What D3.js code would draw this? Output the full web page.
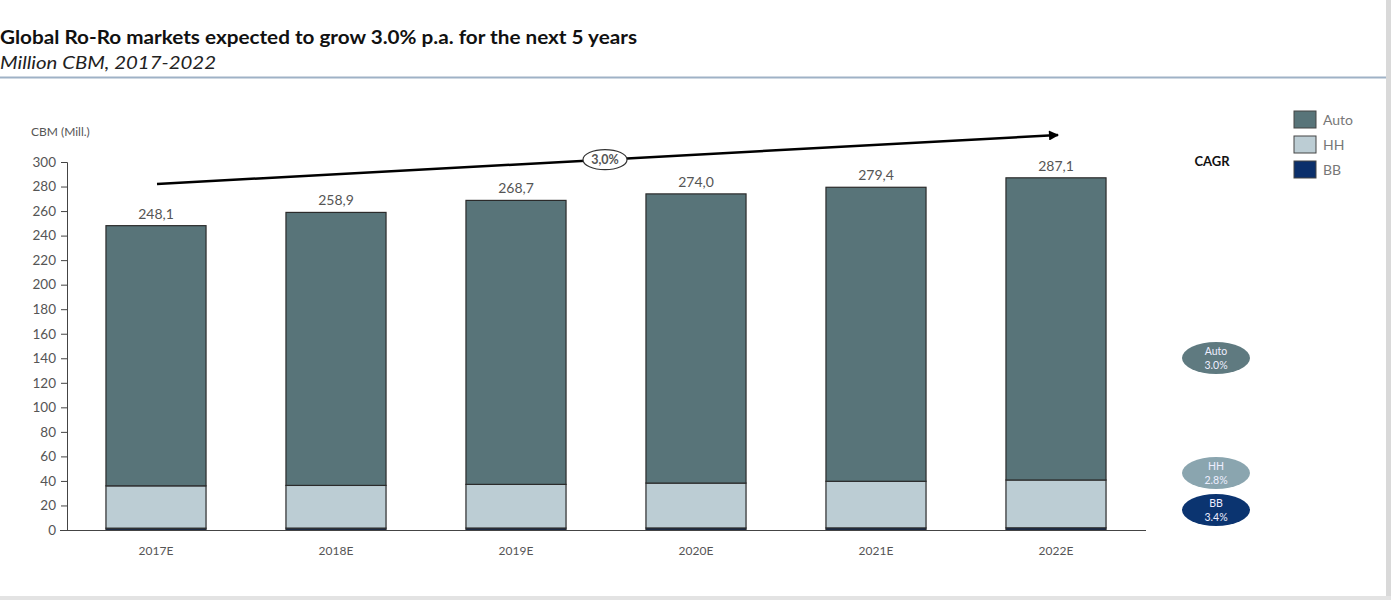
<!DOCTYPE html>
<html><head><meta charset="utf-8">
<script src="https://cdn.jsdelivr.net/npm/d3@7/dist/d3.min.js"></script>
<style>body{margin:0;background:#fff;} svg{display:block;}</style>
</head><body>
<svg id="c" width="1391" height="600"></svg>
<script>
const categories = ["2017E","2018E","2019E","2020E","2021E","2022E"];
const totals = [248.1, 258.9, 268.7, 274.0, 279.4, 287.1];
const totalLabels = ["248,1","258,9","268,7","274,0","279,4","287,1"];
const bbValues = [1.5, 1.55, 1.6, 1.66, 1.71, 1.77];
const hhValues = [34.5, 34.8, 35.6, 36.6, 38.0, 39.0];
const autoValues = totals.map((t,i)=>+(t - hhValues[i] - bbValues[i]).toFixed(2));
const yTicks = d3.range(0, 301, 20);
const seriesNames = ["BB","HH","Auto"];
const legendNames = ["Auto","HH","BB"];
const cagrNames = ["Auto","HH","BB"];
const cagrValues = ["3.0%","2.8%","3.4%"];
const cagrTotal = "3,0%";

const colors = {Auto:"#587479", HH:"#bccdd4", BB:"#0b2f6b"};
const cagrColors = {Auto:"#5f7a80", HH:"#8aa5af", BB:"#0b3470"};

const svg = d3.select("#c");
const font = "Lato, 'Open Sans', sans-serif";

// title
svg.append("text").attr("x",0).attr("y",44).attr("font-family",font).attr("font-weight","bold")
  .attr("font-size",18.5).attr("fill","#111").attr("textLength",637).attr("lengthAdjust","spacingAndGlyphs")
  .text("Global Ro-Ro markets expected to grow 3.0% p.a. for the next 5 years");
svg.append("text").attr("x",0).attr("y",69).attr("font-family",font).attr("font-style","italic")
  .attr("font-size",18).attr("fill","#222").attr("textLength",216).attr("lengthAdjust","spacingAndGlyphs")
  .text("Million CBM, 2017-2022");
svg.append("line").attr("x1",0).attr("x2",1386).attr("y1",77.5).attr("y2",77.5)
  .attr("stroke","#9fb2c6").attr("stroke-width",2);
// frame
svg.append("rect").attr("x",1386).attr("y",0).attr("width",5).attr("height",600).attr("fill","#d9d9d9");
svg.append("rect").attr("x",0).attr("y",596).attr("width",1391).attr("height",4).attr("fill","#e3e3e3");

const y = d3.scaleLinear().domain([0,300]).range([530,162]);
const x = d3.scaleBand().domain(categories).range([66,1146]).paddingInner(0.444).paddingOuter(0.222);

// y axis
const yAxis = d3.axisLeft(y).tickValues(yTicks).tickSize(6).tickPadding(5);
const gy = svg.append("g").attr("transform","translate(67,0)").call(yAxis);
gy.select(".domain").attr("stroke","#444").attr("d","M-6,162.5H0.5V530.5");
gy.selectAll(".tick line").attr("stroke","#444");
gy.selectAll(".tick text").attr("font-family",font).attr("font-size",13.5).attr("fill","#555");

svg.append("text").attr("x",31).attr("y",136).attr("font-family",font).attr("font-size",12)
  .attr("fill","#555").text("CBM (Mill.)");

// stacked
const data = categories.map((c,i)=>({cat:c, BB:bbValues[i], HH:hhValues[i], Auto:autoValues[i]}));
const stack = d3.stack().keys(seriesNames)(data);
svg.append("g").selectAll("g").data(stack).join("g")
  .attr("fill", d=>colors[d.key])
  .selectAll("rect").data(d=>d).join("rect")
  .attr("x", d=>x(d.data.cat)).attr("width", x.bandwidth())
  .attr("y", d=>y(d[1])).attr("height", d=>y(d[0])-y(d[1]))
  .attr("stroke","#2b2b2b").attr("stroke-width",1.2);

// x axis
svg.append("line").attr("x1",60).attr("x2",1146).attr("y1",530.5).attr("y2",530.5).attr("stroke","#444");
svg.append("g").selectAll("text").data(categories).join("text")
  .attr("x", d=>x(d)+x.bandwidth()/2).attr("y",555).attr("text-anchor","middle")
  .attr("font-family",font).attr("font-size",12).attr("fill","#555").text(d=>d);

// total labels
svg.append("g").selectAll("text").data(categories).join("text")
  .attr("x", d=>x(d)+x.bandwidth()/2).attr("y",(d,i)=>y(totals[i])-7).attr("text-anchor","middle")
  .attr("font-family",font).attr("font-size",14).attr("fill","#555").text((d,i)=>totalLabels[i]);

// arrow
const defs = svg.append("defs");
defs.append("marker").attr("id","ah").attr("viewBox","0 0 10 10").attr("refX",9).attr("refY",5)
  .attr("markerWidth",5).attr("markerHeight",4).attr("orient","auto").attr("markerUnits","strokeWidth")
  .append("path").attr("d","M0,0L10,5L0,10z").attr("fill","#000");
const x0 = x(categories[0])+x.bandwidth()/2, x1 = x(categories[5])+x.bandwidth()/2;
svg.append("line").attr("x1",x0+1).attr("y1",184).attr("x2",x1+2).attr("y2",135)
  .attr("stroke","#000").attr("stroke-width",2.5).attr("marker-end","url(#ah)");
const ex = 605, ey = 184 + (605-(x0+1))/((x1+2)-(x0+1))*(135-184);
svg.append("ellipse").attr("cx",ex).attr("cy",ey).attr("rx",22).attr("ry",10)
  .attr("fill","#fff").attr("stroke","#333").attr("stroke-width",1.2);
svg.append("text").attr("x",ex).attr("y",ey+4.5).attr("text-anchor","middle")
  .attr("font-family",font).attr("font-weight","bold").attr("font-size",12.5).attr("fill","#555").text(cagrTotal);

// legend
const lg = svg.append("g").selectAll("g").data(legendNames).join("g")
  .attr("transform",(d,i)=>`translate(1294,${111+i*25})`);
lg.append("rect").attr("width",22).attr("height",17).attr("fill",d=>colors[d]).attr("stroke","#444");
lg.append("text").attr("x",29).attr("y",14).attr("font-family",font).attr("font-size",14)
  .attr("fill","#777").text(d=>d);

// CAGR
svg.append("text").attr("x",1212).attr("y",166).attr("text-anchor","middle").attr("font-family",font)
  .attr("font-weight","bold").attr("font-size",13).attr("fill","#111").text("CAGR");
const cy = [358, 473, 510];
const cg = svg.append("g").selectAll("g").data(cagrNames).join("g")
  .attr("transform",(d,i)=>`translate(1216,${cy[i]})`);
cg.append("ellipse").attr("rx",34).attr("ry",16).attr("fill",d=>cagrColors[d]);
cg.append("text").attr("y",-3).attr("text-anchor","middle").attr("font-family",font)
  .attr("font-size",10.5).attr("fill","#eef").text(d=>d);
cg.append("text").attr("y",11).attr("text-anchor","middle").attr("font-family",font)
  .attr("font-size",10.5).attr("fill","#eef").text((d,i)=>cagrValues[i]);
</script>
</body></html>
